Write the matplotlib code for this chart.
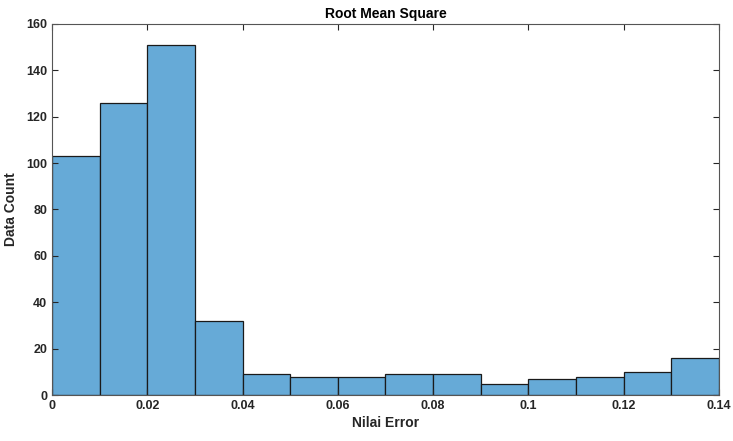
import matplotlib
matplotlib.use("Agg")
import matplotlib.pyplot as plt
import numpy as np

# histogram counts per 0.01-wide bin of the RMS error
bin_edges = np.round(np.arange(0, 0.141, 0.01), 2)
counts = [103, 126, 151, 32, 9, 8, 8, 9, 9, 5, 7, 8, 10, 16]
xticks = [0, 0.02, 0.04, 0.06, 0.08, 0.1, 0.12, 0.14]
xtick_labels = ["0", "0.02", "0.04", "0.06", "0.08", "0.1", "0.12", "0.14"]
yticks = [0, 20, 40, 60, 80, 100, 120, 140, 160]

plt.rcParams["font.family"] = ["Liberation Sans", "DejaVu Sans"]

fig = plt.figure(figsize=(7.33, 4.41), dpi=100)
ax = fig.add_axes([0.0709, 0.104, 0.910, 0.842])

ax.bar(bin_edges[:-1], counts, width=np.diff(bin_edges), align="edge",
       color="#66AAD7", edgecolor="#1a1a1a", linewidth=0.9)

ax.set_xlim(0, 0.14)
ax.set_ylim(0, 160)
ax.set_xticks(xticks)
ax.set_xticklabels(xtick_labels)
ax.set_yticks(yticks)
ax.tick_params(direction="in", top=True, right=True, length=4,
               labelsize=9, colors="#262626", width=0.8)
for lbl in ax.get_xticklabels() + ax.get_yticklabels():
    lbl.set_fontweight("bold")
for sp in ax.spines.values():
    sp.set_color("#555555")
    sp.set_linewidth(0.8)

ax.set_title("Root Mean Square", fontsize=10, fontweight="bold", pad=4)
ax.set_xlabel("Nilai Error", fontsize=10, fontweight="bold", color="#262626",
              labelpad=3)
ax.set_ylabel("Data Count", fontsize=10, fontweight="bold", color="#262626",
              labelpad=6)

fig.savefig("out.png", dpi=100)
